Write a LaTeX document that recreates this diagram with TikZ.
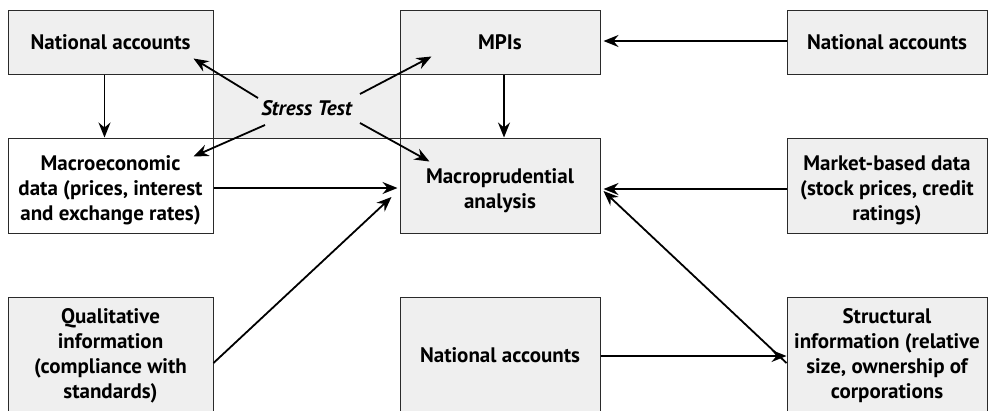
\documentclass[tikz,border=0pt]{standalone}
\usepackage{fontspec}
\setmainfont{PT Sans}
\usetikzlibrary{arrows.meta}
\definecolor{boxgray}{HTML}{EFEFEF}
\definecolor{edge}{HTML}{2A2A2A}
\begin{document}
\begin{tikzpicture}[x=1pt,y=-1pt,
  box/.style={draw=edge,line width=1pt,fill=boxgray,inner sep=2pt,align=center,
    font=\fontsize{21}{25}\selectfont\bfseries},
  wbox/.style={box,fill=white},
  txt/.style={inner sep=0pt,align=center,font=\fontsize{21}{25}\selectfont\bfseries},
  arr/.style={-{Stealth[length=15pt,width=12pt,inset=5pt]},line width=1.8pt,black}]
\useasboundingbox (0,0) rectangle (988,410);
\fill[white] (0,0) rectangle (988,410);
% stress test box
\node[box,minimum width=187pt,minimum height=64pt] (st) at (306.5,106) {};
\node[txt] (stt) at (306.5,108) {\itshape Stress Test};
% top row
\node[box,minimum width=205pt,minimum height=64pt] (na1) at (110.5,42) {National accounts};
\node[box,minimum width=200pt,minimum height=64pt] (mpi) at (500,42) {MPIs};
\node[box,minimum width=200pt,minimum height=64pt] (na2) at (887,42) {National accounts};
% middle row
\node[wbox,minimum width=205pt,minimum height=95pt] (mac) at (110.5,185.5) {};
\node[txt] (mact) at (110.5,190.5) {Macroeconomic\\data (prices, interest\\and exchange rates)};
\node[box,minimum width=200pt,minimum height=95pt] (mpa) at (500,185.5) {};
\node[txt] (mpat) at (500,191) {Macroprudential\\analysis};
\node[box,minimum width=200pt,minimum height=95pt] (mkt) at (887,185.5) {};
\node[txt] (mktt) at (887,190.5) {Market-based data\\(stock prices, credit\\ratings)};
% bottom row
\node[box,minimum width=205pt,minimum height=116pt] (qual) at (110.5,355) {};
\node[txt] (qualt) at (110.5,356) {Qualitative\\information\\(compliance with\\standards)};
\node[box,minimum width=200pt,minimum height=116pt] (na3) at (500,355) {National accounts};
\node[box,minimum width=200pt,minimum height=116pt] (str) at (887,355) {};
\node[txt] (strt) at (887,356) {Structural\\information (relative\\size, ownership of\\corporations};
% stress arrows
\draw[arr] ([shift={(-48.5,-8)}]st.center) -- ([shift={(-20,-16)}]na1.south east);
\draw[arr] ([shift={(53.5,-12)}]st.center) -- ([shift={(32,-18)}]mpi.south west);
\draw[arr] ([shift={(-41.5,19)}]st.center) -- ([shift={(-20,19)}]mac.north east);
\draw[arr] ([shift={(53.5,17)}]st.center) -- ([shift={(30,24)}]mpa.north west);
% other arrows
\draw[arr] ([xshift=-6]na1.south) -- ([xshift=-6]mac.north);
\draw[arr] ([xshift=4]mpi.south) -- ([xshift=4]mpa.north);
\draw[arr] ([yshift=1]na2.west) -- ([yshift=1,xshift=3]mpi.east);
\draw[arr] ([yshift=-2.5]mac.east) -- ([yshift=-2.5,xshift=-2]mpa.west);
\draw[arr] ([yshift=-3.5]mkt.west) -- ([yshift=-3.5,xshift=3]mpa.east);
\draw[arr] ([yshift=-8]qual.east) -- ([shift={(-8,11.5)}]mpa.west);
\draw[arr] ([yshift=-8]str.west) -- ([shift={(3,5.5)}]mpa.east);
\draw[arr] ([yshift=-1]na3.east) -- ([yshift=-1]str.west);
\end{tikzpicture}
\end{document}
